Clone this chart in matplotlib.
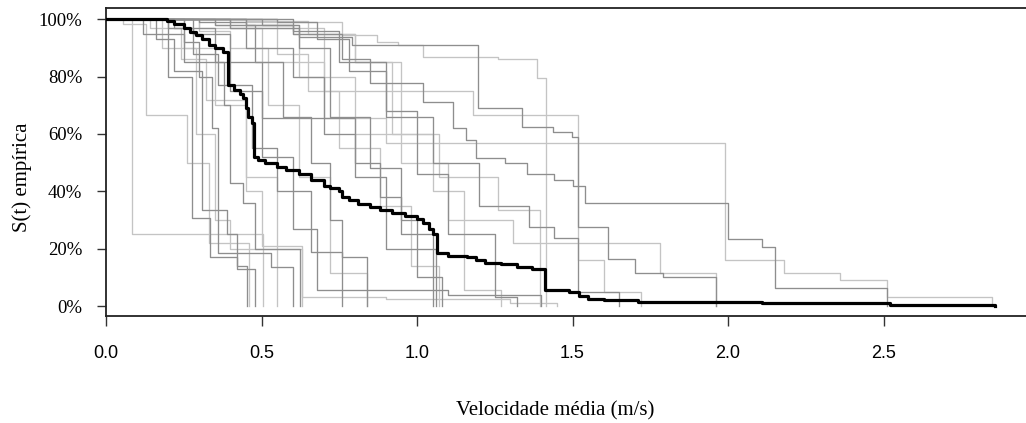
import matplotlib
matplotlib.use("Agg")
import matplotlib.pyplot as plt
from matplotlib.ticker import FixedLocator

# ---------------- data (step times and survival after each step) ----------------
x_ticks = [0.0, 0.5, 1.0, 1.5, 2.0, 2.5]
x_tick_labels = ["0.0", "0.5", "1.0", "1.5", "2.0", "2.5"]
y_ticks = [0.0, 0.2, 0.4, 0.6, 0.8, 1.0]
y_tick_labels = ["0%", "20%", "40%", "60%", "80%", "100%"]

# overall (pooled) empirical survival curve
overall_t = [0.196, 0.22, 0.25, 0.27, 0.29, 0.31, 0.33, 0.35, 0.375, 0.392, 0.41, 0.43,
             0.44, 0.45, 0.455, 0.47, 0.476, 0.49, 0.51, 0.55, 0.58, 0.62, 0.66, 0.70,
             0.72, 0.75, 0.76, 0.78, 0.81, 0.85, 0.88, 0.92, 0.96, 1.00, 1.02, 1.04,
             1.05, 1.064, 1.10, 1.16, 1.19, 1.22, 1.27, 1.32, 1.37, 1.41, 1.49, 1.52,
             1.55, 1.60, 1.71, 2.11, 2.52, 2.86]
overall_s = [0.995, 0.985, 0.97, 0.955, 0.945, 0.93, 0.91, 0.90, 0.885, 0.77, 0.755, 0.74,
             0.725, 0.69, 0.66, 0.64, 0.52, 0.51, 0.50, 0.485, 0.475, 0.46, 0.44, 0.42,
             0.41, 0.40, 0.38, 0.37, 0.355, 0.345, 0.335, 0.325, 0.315, 0.305, 0.29, 0.27,
             0.25, 0.185, 0.175, 0.17, 0.16, 0.15, 0.145, 0.135, 0.13, 0.055, 0.05, 0.036,
             0.025, 0.02, 0.015, 0.01, 0.003, 0.0]

# individual empirical survival curves
g01_t = [0.085, 0.505]
g01_s = [0.25, 0.0]
g02_t = [0.055, 0.13, 0.26, 0.33, 0.46]
g02_s = [0.985, 0.665, 0.50, 0.22, 0.0]
g03_t = [0.12, 0.20, 0.277, 0.334, 0.42, 0.453]
g03_s = [0.95, 0.80, 0.306, 0.17, 0.14, 0.0]
g04_t = [0.16, 0.22, 0.31, 0.39, 0.42, 0.48]
g04_s = [0.93, 0.82, 0.334, 0.25, 0.13, 0.0]
g05_t = [0.18, 0.29, 0.35, 0.40, 0.55]
g05_s = [0.90, 0.60, 0.30, 0.20, 0.0]
g06_t = [0.20, 0.25, 0.38, 0.40, 0.44, 0.48, 0.624]
g06_s = [0.95, 0.85, 0.70, 0.43, 0.36, 0.20, 0.0]
g07_t = [0.25, 0.30, 0.34, 0.36, 0.53, 0.60]
g07_s = [0.92, 0.80, 0.62, 0.185, 0.136, 0.0]
g08_t = [0.14, 0.24, 0.32, 0.45, 0.50, 0.63]
g08_s = [0.97, 0.86, 0.72, 0.40, 0.21, 0.0]
g09_t = [0.22, 0.28, 0.36, 0.47, 0.55, 0.66, 0.76]
g09_s = [0.97, 0.88, 0.77, 0.55, 0.40, 0.19, 0.0]
g10_t = [0.30, 0.40, 0.52, 0.62, 0.72, 0.84]
g10_s = [0.96, 0.90, 0.70, 0.45, 0.115, 0.0]
g11_t = [0.35, 0.48, 0.57, 0.66, 0.72, 0.76, 0.84]
g11_s = [0.98, 0.85, 0.66, 0.50, 0.30, 0.17, 0.0]
g12_t = [0.30, 0.45, 0.60, 0.70, 0.80, 0.90, 1.06]
g12_s = [0.99, 0.90, 0.80, 0.60, 0.45, 0.20, 0.0]
g13_t = [0.40, 0.55, 0.65, 0.75, 0.88, 0.98, 1.07]
g13_s = [0.97, 0.88, 0.75, 0.55, 0.35, 0.14, 0.0]
g14_t = [0.50, 0.62, 0.72, 0.85, 0.95, 1.00, 1.08]
g14_s = [0.98, 0.90, 0.66, 0.48, 0.30, 0.10, 0.0]
g15_t = [0.45, 0.65, 0.80, 0.92, 1.05, 1.15, 1.27]
g15_s = [0.995, 0.95, 0.85, 0.60, 0.40, 0.055, 0.0]
g16_t = [0.55, 0.68, 0.78, 0.90, 1.00, 1.10, 1.25, 1.32]
g16_s = [0.99, 0.93, 0.82, 0.68, 0.46, 0.25, 0.03, 0.0]
g17_t = [0.25, 0.35, 0.45, 0.55, 0.63, 0.90, 1.30, 1.45]
g17_s = [0.90, 0.70, 0.45, 0.20, 0.03, 0.025, 0.01, 0.0]
g18_t = [0.28, 0.40, 0.50, 0.60, 0.68, 1.10, 1.40]
g18_s = [0.95, 0.75, 0.52, 0.27, 0.055, 0.04, 0.0]
g19_t = [0.40, 0.76, 0.87, 0.94, 1.02, 1.26, 1.386, 1.415]
g19_s = [0.99, 0.945, 0.92, 0.91, 0.867, 0.86, 0.794, 0.0]
g20_t = [0.40, 0.62, 0.79, 1.195, 1.338, 1.437, 1.498, 1.518, 1.614, 1.70, 1.79, 1.96]
g20_s = [0.97, 0.94, 0.91, 0.69, 0.624, 0.606, 0.59, 0.275, 0.165, 0.115, 0.10, 0.0]
g21_t = [0.35, 0.60, 0.80, 0.95, 1.18, 1.517, 1.60, 1.72]
g21_s = [0.98, 0.95, 0.85, 0.75, 0.665, 0.16, 0.05, 0.0]
g22_t = [0.45, 0.60, 0.76, 0.85, 1.02, 1.115, 1.157, 1.19, 1.283, 1.355, 1.44, 1.50,
         1.54, 2.00, 2.11, 2.15, 2.51]
g22_s = [0.98, 0.95, 0.86, 0.777, 0.71, 0.62, 0.58, 0.515, 0.50, 0.46, 0.44, 0.42,
         0.36, 0.233, 0.205, 0.062, 0.0]
g23_t = [0.30, 0.50, 0.70, 0.90, 1.99, 2.18, 2.36, 2.51, 2.85]
g23_s = [0.97, 0.85, 0.655, 0.57, 0.16, 0.115, 0.09, 0.03, 0.0]
g24_t = [0.45, 0.62, 0.80, 1.07, 1.26, 1.395]
g24_s = [0.98, 0.80, 0.60, 0.45, 0.334, 0.0]
g25_t = [0.55, 0.70, 0.95, 1.10, 1.31, 1.78, 1.96]
g25_s = [0.97, 0.75, 0.50, 0.30, 0.22, 0.115, 0.0]
g26_t = [0.60, 0.75, 0.90, 1.05, 1.20, 1.36, 1.44, 1.517, 1.65]
g26_s = [0.96, 0.85, 0.66, 0.50, 0.35, 0.275, 0.237, 0.05, 0.0]
g27_t = [0.20, 0.35, 0.50, 0.80, 0.88, 0.95, 1.05]
g27_s = [0.97, 0.85, 0.655, 0.50, 0.38, 0.25, 0.0]

dark_curves = [(g03_t, g03_s), (g04_t, g04_s), (g06_t, g06_s), (g07_t, g07_s),
               (g09_t, g09_s), (g11_t, g11_s), (g12_t, g12_s), (g14_t, g14_s),
               (g16_t, g16_s), (g18_t, g18_s), (g20_t, g20_s), (g22_t, g22_s),
               (g26_t, g26_s), (g27_t, g27_s)]
light_curves = [(g01_t, g01_s), (g02_t, g02_s), (g05_t, g05_s), (g08_t, g08_s),
                (g10_t, g10_s), (g13_t, g13_s), (g15_t, g15_s), (g17_t, g17_s),
                (g19_t, g19_s), (g21_t, g21_s), (g23_t, g23_s), (g24_t, g24_s),
                (g25_t, g25_s)]

# ---------------- figure ----------------
W, H = 1026, 423
RIGHT_PX = 1032  # plot box extends just past the right edge of the image
fig = plt.figure(figsize=(W / 100, H / 100), dpi=100)
ax = fig.add_axes([106 / W, (H - 316) / H, (RIGHT_PX - 106) / W, 308 / H])

def draw(t, s, **kw):
    ax.step([0.0] + list(t), [1.0] + list(s), where="post", **kw)

for t, s in light_curves:
    draw(t, s, color="#c4c4c4", lw=0.95, zorder=2)
for t, s in dark_curves:
    draw(t, s, color="#8e8e8e", lw=0.95, zorder=3)
draw(overall_t, overall_s, color="black", lw=2.3, zorder=5)

ax.set_xlim(0.0, (RIGHT_PX - 106) / 311.0)
ax.set_ylim(-10 / 286.7, 1 + 11.3 / 286.7)

ax.xaxis.set_major_locator(FixedLocator(x_ticks))
ax.set_xticklabels(x_tick_labels, fontfamily="Liberation Sans", fontsize=13)
ax.yaxis.set_major_locator(FixedLocator(y_ticks))
ax.set_yticklabels(y_tick_labels, fontfamily="Liberation Serif", fontsize=13.5)
ax.tick_params(axis="x", direction="out", length=7.5, width=1.0, pad=13.5, color="#333333")
ax.tick_params(axis="y", direction="out", length=6.5, width=1.0, pad=10.5, color="#333333")

for sp in ax.spines.values():
    sp.set_linewidth(1.3)
    sp.set_color("#222222")

ax.set_xlabel("Velocidade média (m/s)", fontfamily="Liberation Serif", fontsize=15)
ax.set_ylabel("S(t) empírica", fontfamily="Liberation Serif", fontsize=15)
ax.xaxis.set_label_coords((555 - 106) / (RIGHT_PX - 106), (316 - 411) / 308)
ax.xaxis.label.set_va("center")
ax.yaxis.set_label_coords((22 - 106) / (RIGHT_PX - 106), 0.45)
ax.yaxis.label.set_va("center")

fig.savefig("out.png", dpi=100)
